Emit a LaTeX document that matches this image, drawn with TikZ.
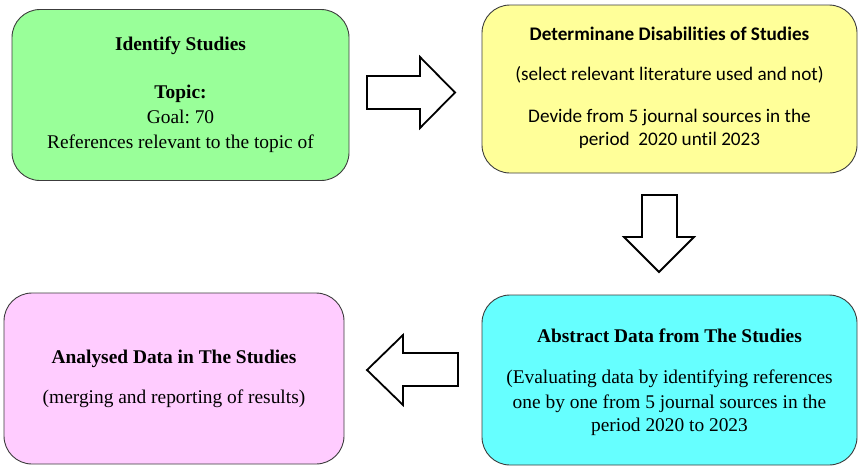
\documentclass[tikz,border=0pt]{standalone}
\usepackage{fontspec}
\setmainfont{Liberation Serif}
\newfontfamily\calibrifont[Ligatures=NoCommon]{Carlito}
\usepackage{tikz}
\usetikzlibrary{positioning, calc}
\definecolor{identifygreen}{HTML}{99FF99}
\definecolor{selectyellow}{HTML}{FFFF99}
\definecolor{abstractcyan}{HTML}{66FFFF}
\definecolor{analysedpink}{HTML}{FFCCFF}
\definecolor{boxline}{RGB}{60, 60, 60}
\frenchspacing

\begin{document}
\begin{tikzpicture}[x=1pt, y=-1pt,
  box/.style={draw=boxline, line width=0.9pt, rounded corners=28pt, inner sep=0pt},
  boxtext/.style={align=center, font=\fontsize{19.4}{25}\selectfont},
  sanstext/.style={align=center, font=\calibrifont\fontsize{19.2}{25}\selectfont},
  blockarrow/.style={draw=black, fill=white, line width=1.8pt, line join=miter}]
  \useasboundingbox (0,0) rectangle (861,467);

  % the four steps
  \node[box, fill=identifygreen, minimum width=337pt, minimum height=171pt] (identify) at (180.5,95) {};
  \node[box, fill=selectyellow, minimum width=375pt, minimum height=168pt] (determine) at (669.5,89) {};
  \node[box, fill=abstractcyan, minimum width=375pt, minimum height=170pt] (abstract) at (669.5,380) {};
  \node[box, fill=analysedpink, minimum width=340pt, minimum height=171pt] (analysed) at (174,378.5) {};

  \node[boxtext] (identifytext) at (identify.center)
    {\textbf{Identify Studies}\\[23pt] \textbf{Topic:}\\ Goal: 70\\ References relevant to the topic of};
  \node[sanstext] (determinetext) at ([yshift=1.5pt]determine.center)
    {\textbf{Determinane Disabilities of Studies}\\[15pt] (select relevant literature used and not)\\[17pt]
     Devide from 5 journal sources in the\\[-2pt] period\ \ 2020 until 2023};
  \node[boxtext] (abstracttext) at ([yshift=-2pt]abstract.center)
    {\textbf{Abstract Data from The Studies}\\[16pt] (Evaluating data by identifying references\\
     one by one from 5 journal sources in the\\[-2pt] period 2020 to 2023};
  \node[boxtext] (analysedtext) at ([yshift=0pt]analysed.center)
    {\textbf{Analysed Data in The Studies}\\[15pt] (merging and reporting of results)};

  % block arrows between the steps
  \draw[blockarrow] (367,76) -- (420,76) -- (420,57) -- (455,92.5) -- (420,128) -- (420,109) -- (367,109) -- cycle;
  \draw[blockarrow] (642,195) -- (677,195) -- (677,237) -- (694,237) -- (659,272) -- (624,237) -- (642,237) -- cycle;
  \draw[blockarrow] (458,353) -- (403,353) -- (403,335) -- (367,370) -- (403,405) -- (403,386) -- (458,386) -- cycle;
\end{tikzpicture}
\end{document}
